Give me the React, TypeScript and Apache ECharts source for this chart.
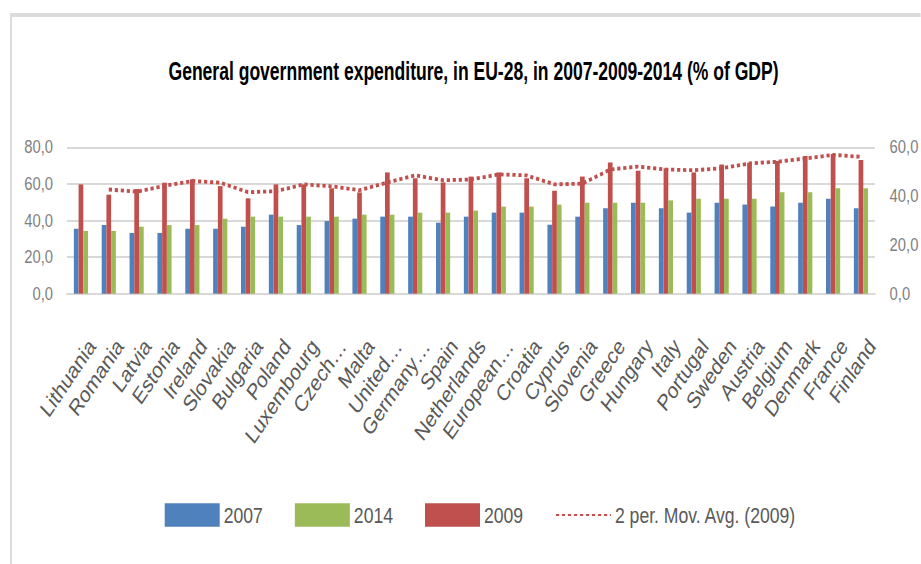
import React, { useEffect, useRef } from 'react';
import * as echarts from 'echarts';

const categories = [
  'Lithuania', 'Romania', 'Latvia', 'Estonia', 'Ireland', 'Slovakia', 'Bulgaria', 'Poland',
  'Luxembourg', 'Czech…', 'Malta', 'United…', 'Germany…', 'Spain', 'Netherlands', 'European…',
  'Croatia', 'Cyprus', 'Slovenia', 'Greece', 'Hungary', 'Italy', 'Portugal', 'Sweden',
  'Austria', 'Belgium', 'Denmark', 'France', 'Finland',
];
const v2007 = [35.5, 37.5, 33.2, 33.2, 35.5, 35.5, 36.6, 43.2, 37.5, 39.7, 41.0, 42.1, 42.1, 38.8, 42.1, 44.3, 44.3, 37.7, 42.1, 46.7, 49.7, 46.7, 44.3, 49.7, 48.7, 47.6, 49.7, 51.9, 46.7];
const v2014 = [34.3, 34.3, 36.6, 37.5, 37.5, 41.0, 42.1, 42.1, 42.1, 42.1, 43.2, 43.2, 44.3, 44.3, 45.4, 47.6, 47.6, 48.7, 49.7, 49.7, 49.7, 51.0, 51.9, 51.9, 51.9, 55.4, 55.4, 57.6, 57.6];
const v2009 = [44.8, 40.6, 42.9, 45.5, 46.9, 44.1, 39.1, 44.8, 44.8, 43.2, 41.5, 49.7, 47.3, 45.6, 48.0, 49.7, 47.3, 42.2, 48.0, 53.8, 50.4, 51.4, 49.7, 53.0, 53.7, 54.4, 56.4, 57.3, 54.8];
const movAvg2009: (number | string)[] = ['-', 42.7, 41.8, 44.2, 46.2, 45.5, 41.6, 42.0, 44.8, 44.0, 42.4, 45.6, 48.5, 46.5, 46.8, 48.9, 48.5, 44.8, 45.1, 50.9, 52.1, 50.9, 50.6, 51.4, 53.4, 54.1, 55.4, 56.9, 56.1];
const legendNames = ['2007', '2014', '2009', '2 per. Mov. Avg. (2009)'];
const titleText = 'General government expenditure, in EU-28, in 2007-2009-2014 (% of GDP)';

const SX = 0.8;
const W = 1151;
const H = 564;
const px = (x: number) => x / SX;

const fmt = (v: number) => v.toFixed(1).replace('.', ',');

export default function App() {
  const ref = useRef<HTMLDivElement>(null);
  useEffect(() => {
    const chart = echarts.init(ref.current!, null, { renderer: 'svg' });
    const plotLeft = px(67);
    const plotRight = px(877);
    chart.setOption({
      animation: false,
      backgroundColor: '#ffffff',
      legend: {
        data: [
          { name: legendNames[0], icon: 'rect' },
          { name: legendNames[1], icon: 'rect' },
          { name: legendNames[2], icon: 'rect' },
          { name: legendNames[3], itemStyle: { opacity: 0 } },
        ],
        left: px(160.7),
        top: 498,
        itemWidth: px(55),
        itemHeight: 23.4,
        itemGap: 40,
        textStyle: {
          fontFamily: "'Liberation Sans', Arial, sans-serif",
          fontSize: 22,
          lineHeight: 24,
          color: '#595959',
        },
      },
      grid: {
        left: plotLeft,
        right: W - plotRight,
        top: 147.3,
        bottom: H - 293.7,
        containLabel: false,
      },
      xAxis: {
        type: 'category',
        data: categories,
        axisTick: { show: false },
        axisLine: { lineStyle: { color: '#d9d9d9', width: 2 } },
        axisLabel: {
          interval: 0,
          rotate: 50,
          align: 'right',
          verticalAlign: 'top',
          padding: [6, 0, 0, 0],
          margin: 37,
          fontFamily: "'Liberation Sans', Arial, sans-serif",
          fontSize: 23,
          color: '#595959',
        },
      },
      yAxis: [
        {
          type: 'value',
          min: 0,
          max: 80,
          interval: 20,
          axisLine: { show: false },
          axisTick: { show: false },
          splitLine: { lineStyle: { color: '#d9d9d9', width: 2 } },
          axisLabel: {
            formatter: fmt,
            margin: 17.5,
            fontFamily: "'Liberation Sans', Arial, sans-serif",
            fontSize: 18.5,
            color: '#7f7f7f',
          },
        },
        {
          type: 'value',
          min: 0,
          max: 60,
          interval: 20,
          position: 'right',
          axisLine: { show: false },
          axisTick: { show: false },
          splitLine: { show: false },
          axisLabel: {
            formatter: fmt,
            margin: 18.4,
            fontFamily: "'Liberation Sans', Arial, sans-serif",
            fontSize: 18.5,
            color: '#7f7f7f',
          },
        },
      ],
      graphic: [
        { type: 'rect', shape: { x: px(10), y: 13, width: 2.5, height: H - 13 }, style: { fill: '#dcdcdc' }, silent: true },
        { type: 'rect', shape: { x: px(10), y: 13, width: W - px(10), height: 4 }, style: { fill: '#dcdcdc' }, silent: true },
        {
          type: 'text',
          x: px(473.5),
          y: 71,
          scaleX: 0.86,
          silent: true,
          style: {
            text: titleText,
            fontFamily: "'Liberation Sans', Arial, sans-serif",
            fontWeight: 'bold',
            fontSize: 25.5,
            fill: '#000000',
            align: 'center',
            verticalAlign: 'middle',
            textAlign: 'center',
            textVerticalAlign: 'middle',
          },
        },
      ],
      series: [
        {
          name: legendNames[0],
          type: 'bar',
          data: v2007,
          yAxisIndex: 0,
          barWidth: 5.9,
          itemStyle: { color: '#4F81BD' },
        },
        {
          name: legendNames[2],
          type: 'bar',
          data: v2009,
          yAxisIndex: 1,
          barWidth: 5.9,
          itemStyle: { color: '#C0504D' },
        },
        {
          name: legendNames[1],
          type: 'bar',
          data: v2014,
          yAxisIndex: 0,
          barWidth: 5.9,
          barGap: '0%',
          itemStyle: { color: '#9BBB59' },
        },
        {
          name: legendNames[3],
          type: 'line',
          data: movAvg2009,
          yAxisIndex: 1,
          symbol: 'none',
          z: 5,
          lineStyle: { color: '#C0504D', width: 3.8, type: [4, 3.5] },
          itemStyle: { color: '#C0504D' },
        },
      ],
    });
    return () => chart.dispose();
  }, []);
  return (
    <div style={{ position: 'fixed', left: 0, top: 0, width: 921, height: 564, overflow: 'hidden', background: '#ffffff' }}>
      <div ref={ref} style={{ width: W, height: H, transform: `scaleX(${SX})`, transformOrigin: '0 0' }} />
    </div>
  );
}
